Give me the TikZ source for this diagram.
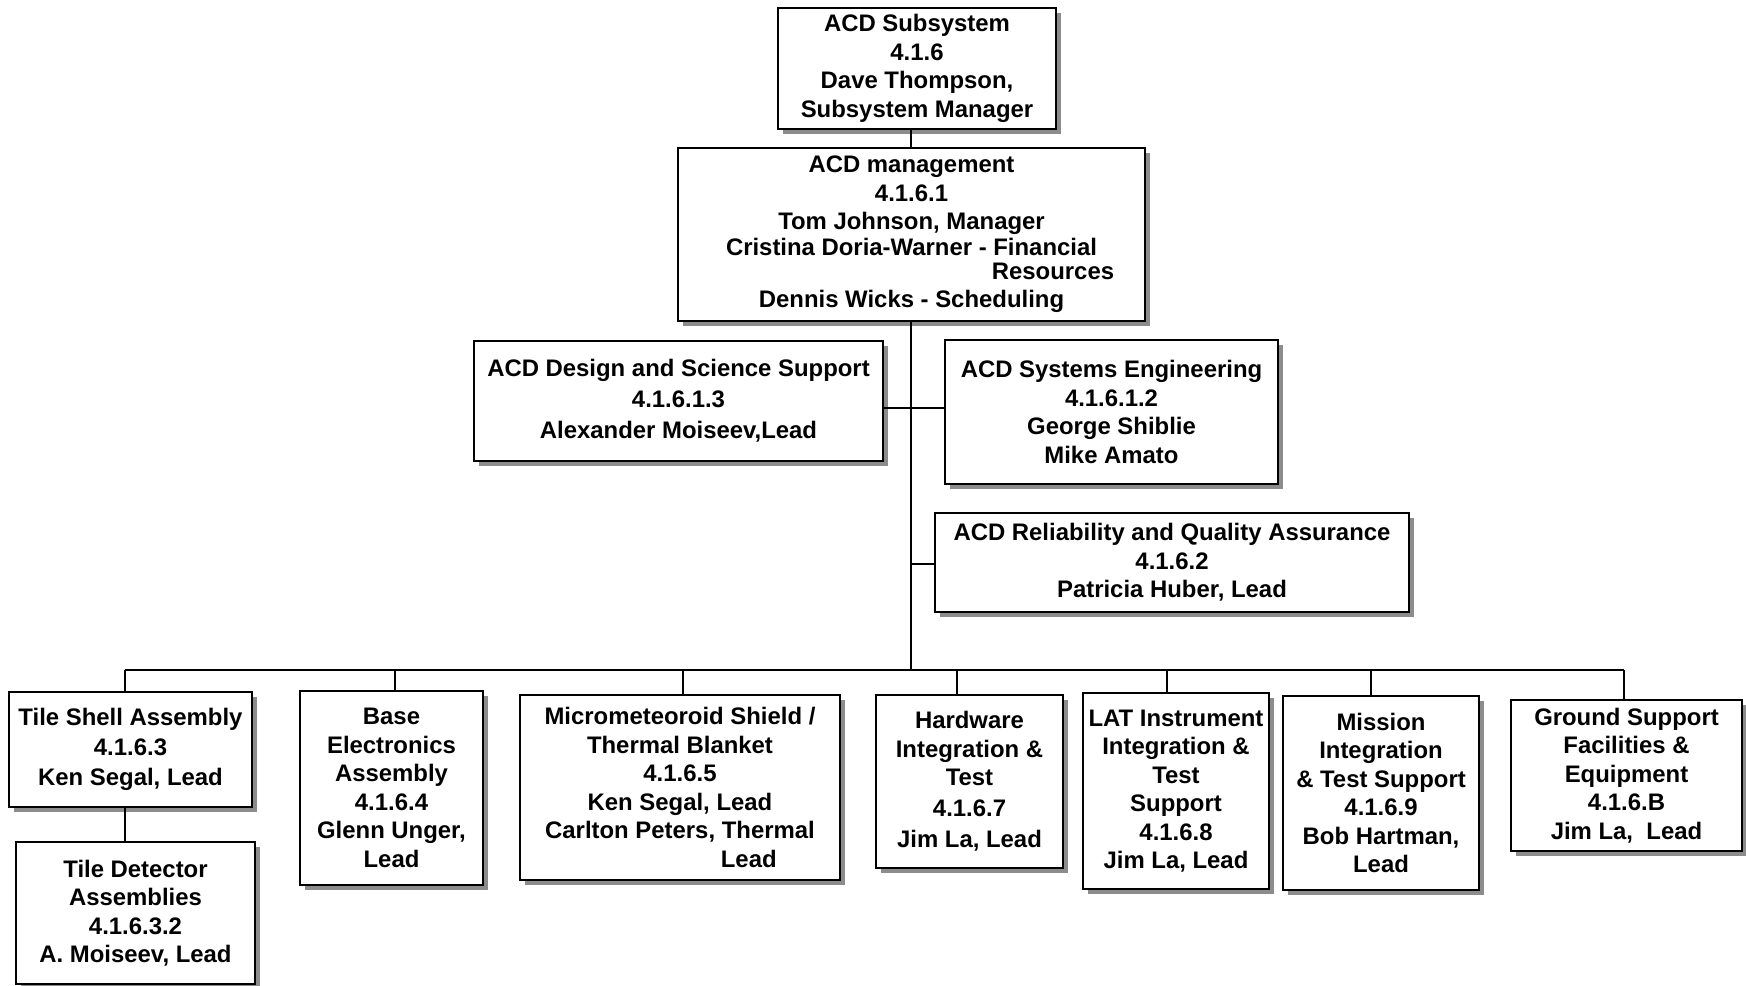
\documentclass[tikz,border=0pt]{standalone}
\usepackage{fontspec}
\setmainfont{Liberation Sans}
\usepackage{tikz}
\usetikzlibrary{shadows}
\tikzset{wbs/.style = {draw, fill=white, line width=1.2pt, inner sep=0, align=center,
    font=\bfseries\fontsize{13.6}{16.2}\selectfont,
    drop shadow={shadow xshift=0.1cm, shadow yshift=-0.1cm, fill=black!45, opacity=1}},
  link/.style = {line width=1.1pt}}

\begin{document}
\begin{tikzpicture}
      \useasboundingbox (0, 0) rectangle (34.92, 19.72);
      \node [wbs, minimum width=5.56cm, minimum height=2.42cm] (sub) at (18.34, 18.35)
        {ACD Subsystem\\ 4.1.6\\ Dave Thompson,\\ Subsystem Manager};
      \node [wbs, minimum width=9.34cm, minimum height=3.46cm] (mgmt) at (18.23, 15.03)
        {ACD management\\ 4.1.6.1\\ Tom Johnson, Manager\\[-0.05cm]
         Cristina Doria-Warner - Financial\\[-0.1cm] \hspace*{5.66cm}Resources\\ Dennis Wicks - Scheduling};
      \node [wbs, minimum width=8.18cm, minimum height=2.40cm] (design) at (13.57, 11.70)
        {ACD Design and Science Support\\[0.05cm] 4.1.6.1.3\\[0.05cm] Alexander Moiseev,Lead};
      \node [wbs, minimum width=6.66cm, minimum height=2.88cm] (syseng) at (22.23, 11.48)
        {ACD Systems Engineering\\ 4.1.6.1.2\\ George Shiblie\\ Mike Amato};
      \node [wbs, minimum width=9.48cm, minimum height=1.98cm] (rqa) at (23.44, 8.47)
        {ACD Reliability and Quality Assurance\\ 4.1.6.2\\ Patricia Huber, Lead};

      \node [wbs, minimum width=4.86cm, minimum height=2.30cm] (tshell) at (2.61, 4.73)
        {Tile Shell Assembly\\[0.03cm] 4.1.6.3\\[0.03cm] Ken Segal, Lead};
      \node [wbs, minimum width=4.78cm, minimum height=2.84cm] (tdet) at (2.71, 1.46)
        {Tile Detector\\ Assemblies\\ 4.1.6.3.2\\ A. Moiseev, Lead};
      \node [wbs, minimum width=3.66cm, minimum height=3.88cm] (base) at (7.83, 3.96)
        {Base\\ Electronics\\ Assembly\\ 4.1.6.4\\ Glenn Unger,\\ Lead};
      \node [wbs, minimum width=6.40cm, minimum height=3.70cm] (micro) at (13.60, 3.97)
        {Micrometeoroid Shield /\\ Thermal Blanket\\ 4.1.6.5\\ Ken Segal, Lead\\
         Carlton Peters, Thermal\\ \hspace*{2.75cm}Lead};
      \node [wbs, minimum width=3.74cm, minimum height=3.46cm] (hwit) at (19.39, 4.09)
        {Hardware\\ Integration \&\\ Test\\[0.05cm] 4.1.6.7\\[0.05cm] Jim La, Lead};
      \node [wbs, minimum width=3.72cm, minimum height=3.92cm] (latit) at (23.52, 3.90)
        {LAT Instrument\\ Integration \&\\ Test\\ Support\\ 4.1.6.8\\ Jim La, Lead};
      \node [wbs, minimum width=3.92cm, minimum height=3.88cm] (mits) at (27.62, 3.86)
        {Mission\\ Integration\\ \& Test Support\\ 4.1.6.9\\ Bob Hartman,\\ Lead};
      \node [wbs, minimum width=4.62cm, minimum height=3.02cm] (gsfe) at (32.53, 4.21)
        {Ground Support\\ Facilities \&\\ Equipment\\ 4.1.6.B\\ Jim La,\ \ Lead};

      % spine and bus
      \coordinate (top) at (18.22, 19.72);
      \coordinate (tee1) at (18.22, 11.56);
      \coordinate (tee2) at (18.22, 8.44);
      \coordinate (busL) at (2.50, 6.32);
      \coordinate (busR) at (32.48, 6.32);
      \coordinate (busM) at (18.22, 6.32);
      \draw [link] (sub.south -| top) -- (mgmt.north -| top);
      \draw [link] (mgmt.south -| top) -- (busM);
      \draw [link] (design.east |- tee1) -- (syseng.west |- tee1);
      \draw [link] (tee2) -- (rqa.west |- tee2);
      \draw [link] (busL) -- (busR);
      \foreach \n/\x in {tshell/2.50, base/7.90, micro/13.66, hwit/19.14,
                         latit/23.34, mits/27.42, gsfe/32.48}
        \draw [link] (\x,0 |- busL) -- (\n.north -| \x,0);
      \draw [link] (tshell.south -| busL) -- (tdet.north -| busL);
    \end{tikzpicture}
\end{document}
